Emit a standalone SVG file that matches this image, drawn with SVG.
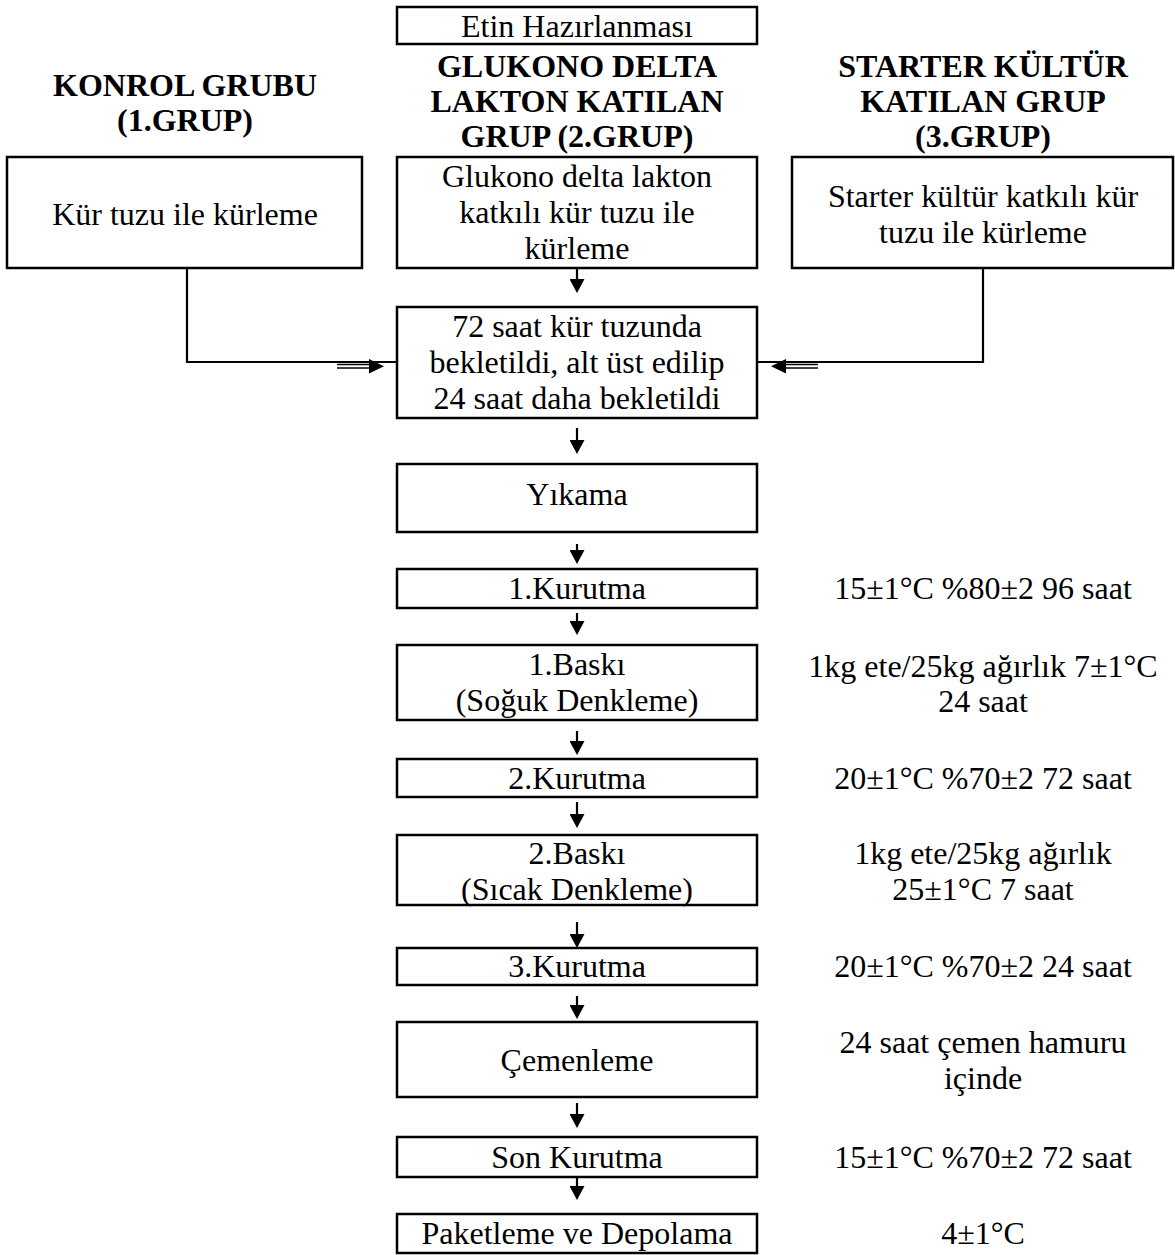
<svg xmlns="http://www.w3.org/2000/svg" width="1175" height="1255" viewBox="0 0 1175 1255">
<style>
text{font-family:"Liberation Serif","Times New Roman",serif;font-size:32px;fill:#000;text-anchor:middle}
.h{font-weight:bold}
.box{fill:#fff;stroke:#000;stroke-width:2.5}
.ln{fill:none;stroke:#000;stroke-width:2.2}
.dl{fill:none;stroke:#000;stroke-width:1.5}
</style>
<defs>
<marker id="ah" markerUnits="userSpaceOnUse" viewBox="0 0 14 15" markerWidth="14" markerHeight="15" refX="0" refY="7.5" orient="auto">
<path d="M0,0 L14,7.5 L0,15 z" fill="#000"/>
</marker>
</defs>
<rect width="1175" height="1255" fill="#fff"/>

<g id="headings">
<text class="h" x="185" y="96">KONROL GRUBU</text>
<text class="h" x="185" y="131">(1.GRUP)</text>
<text class="h" x="577" y="77">GLUKONO DELTA</text>
<text class="h" x="577" y="112">LAKTON KATILAN</text>
<text class="h" x="577" y="147">GRUP (2.GRUP)</text>
<text class="h" x="983" y="77">STARTER KÜLTÜR</text>
<text class="h" x="983" y="112">KATILAN GRUP</text>
<text class="h" x="983" y="147">(3.GRUP)</text>
</g>

<g id="connectors">
<polyline class="ln" points="187,268 187,362 397,362"/>
<polyline class="ln" points="983,268 983,362 757,362"/>
<line class="dl" x1="337" y1="364.5" x2="372" y2="364.5"/>
<line class="dl" x1="337" y1="368" x2="372" y2="368"/>
<path d="M369,359 L384,366.3 L369,373.5 z" fill="#000"/>
<line class="dl" x1="783" y1="364.5" x2="818" y2="364.5"/>
<line class="dl" x1="783" y1="368" x2="818" y2="368"/>
<path d="M786,359 L771,366.3 L786,373.5 z" fill="#000"/>
<line class="ln" x1="577" y1="268" x2="577" y2="279" marker-end="url(#ah)"/>
<line class="ln" x1="577" y1="428" x2="577" y2="440" marker-end="url(#ah)"/>
<line class="ln" x1="577" y1="544" x2="577" y2="550" marker-end="url(#ah)"/>
<line class="ln" x1="577" y1="613" x2="577" y2="621" marker-end="url(#ah)"/>
<line class="ln" x1="577" y1="731" x2="577" y2="741" marker-end="url(#ah)"/>
<line class="ln" x1="577" y1="802" x2="577" y2="814" marker-end="url(#ah)"/>
<line class="ln" x1="577" y1="922" x2="577" y2="934" marker-end="url(#ah)"/>
<line class="ln" x1="577" y1="996" x2="577" y2="1005" marker-end="url(#ah)"/>
<line class="ln" x1="577" y1="1103" x2="577" y2="1114" marker-end="url(#ah)"/>
<line class="ln" x1="577" y1="1177" x2="577" y2="1186" marker-end="url(#ah)"/>
</g>

<g id="n-etin"><rect class="box" x="397" y="7" width="360" height="37"/><text x="577" y="37">Etin Hazırlanması</text></g>
<g id="n-kur1"><rect class="box" x="7" y="157" width="355" height="111"/><text x="185" y="225">Kür tuzu ile kürleme</text></g>
<g id="n-kur2"><rect class="box" x="397" y="157" width="360" height="111"/><text x="577" y="187">Glukono delta lakton</text><text x="577" y="223">katkılı kür tuzu ile</text><text x="577" y="259">kürleme</text></g>
<g id="n-kur3"><rect class="box" x="792" y="157" width="381" height="111"/><text x="983" y="207">Starter kültür katkılı kür</text><text x="983" y="243">tuzu ile kürleme</text></g>
<g id="n-72"><rect class="box" x="397" y="307" width="360" height="111"/><text x="577" y="337">72 saat kür tuzunda</text><text x="577" y="373">bekletildi, alt üst edilip</text><text x="577" y="409">24 saat daha bekletildi</text></g>
<g id="n-yikama"><rect class="box" x="397" y="464" width="360" height="68"/><text x="577" y="505">Yıkama</text></g>
<g id="n-k1"><rect class="box" x="397" y="569" width="360" height="39"/><text x="577" y="599">1.Kurutma</text></g>
<g id="n-b1"><rect class="box" x="397" y="645" width="360" height="75"/><text x="577" y="675">1.Baskı</text><text x="577" y="711">(Soğuk Denkleme)</text></g>
<g id="n-k2"><rect class="box" x="397" y="759" width="360" height="38"/><text x="577" y="789">2.Kurutma</text></g>
<g id="n-b2"><rect class="box" x="397" y="835" width="360" height="70"/><text x="577" y="864">2.Baskı</text><text x="577" y="900">(Sıcak Denkleme)</text></g>
<g id="n-k3"><rect class="box" x="397" y="948" width="360" height="37"/><text x="577" y="977">3.Kurutma</text></g>
<g id="n-cemen"><rect class="box" x="397" y="1022" width="360" height="75"/><text x="577" y="1071">Çemenleme</text></g>
<g id="n-son"><rect class="box" x="397" y="1137" width="360" height="40"/><text x="577" y="1168">Son Kurutma</text></g>
<g id="n-paket"><rect class="box" x="397" y="1214" width="360" height="39"/><text x="577" y="1244">Paketleme ve Depolama</text></g>

<g id="conditions">
<text x="983" y="599">15±1°C %80±2 96 saat</text>
<text x="983" y="677">1kg ete/25kg ağırlık 7±1°C</text>
<text x="983" y="712">24 saat</text>
<text x="983" y="789">20±1°C %70±2 72 saat</text>
<text x="983" y="864">1kg ete/25kg ağırlık</text>
<text x="983" y="900">25±1°C 7 saat</text>
<text x="983" y="977">20±1°C %70±2 24 saat</text>
<text x="983" y="1053">24 saat çemen hamuru</text>
<text x="983" y="1089">içinde</text>
<text x="983" y="1168">15±1°C %70±2 72 saat</text>
<text x="983" y="1244">4±1°C</text>
</g>
</svg>
